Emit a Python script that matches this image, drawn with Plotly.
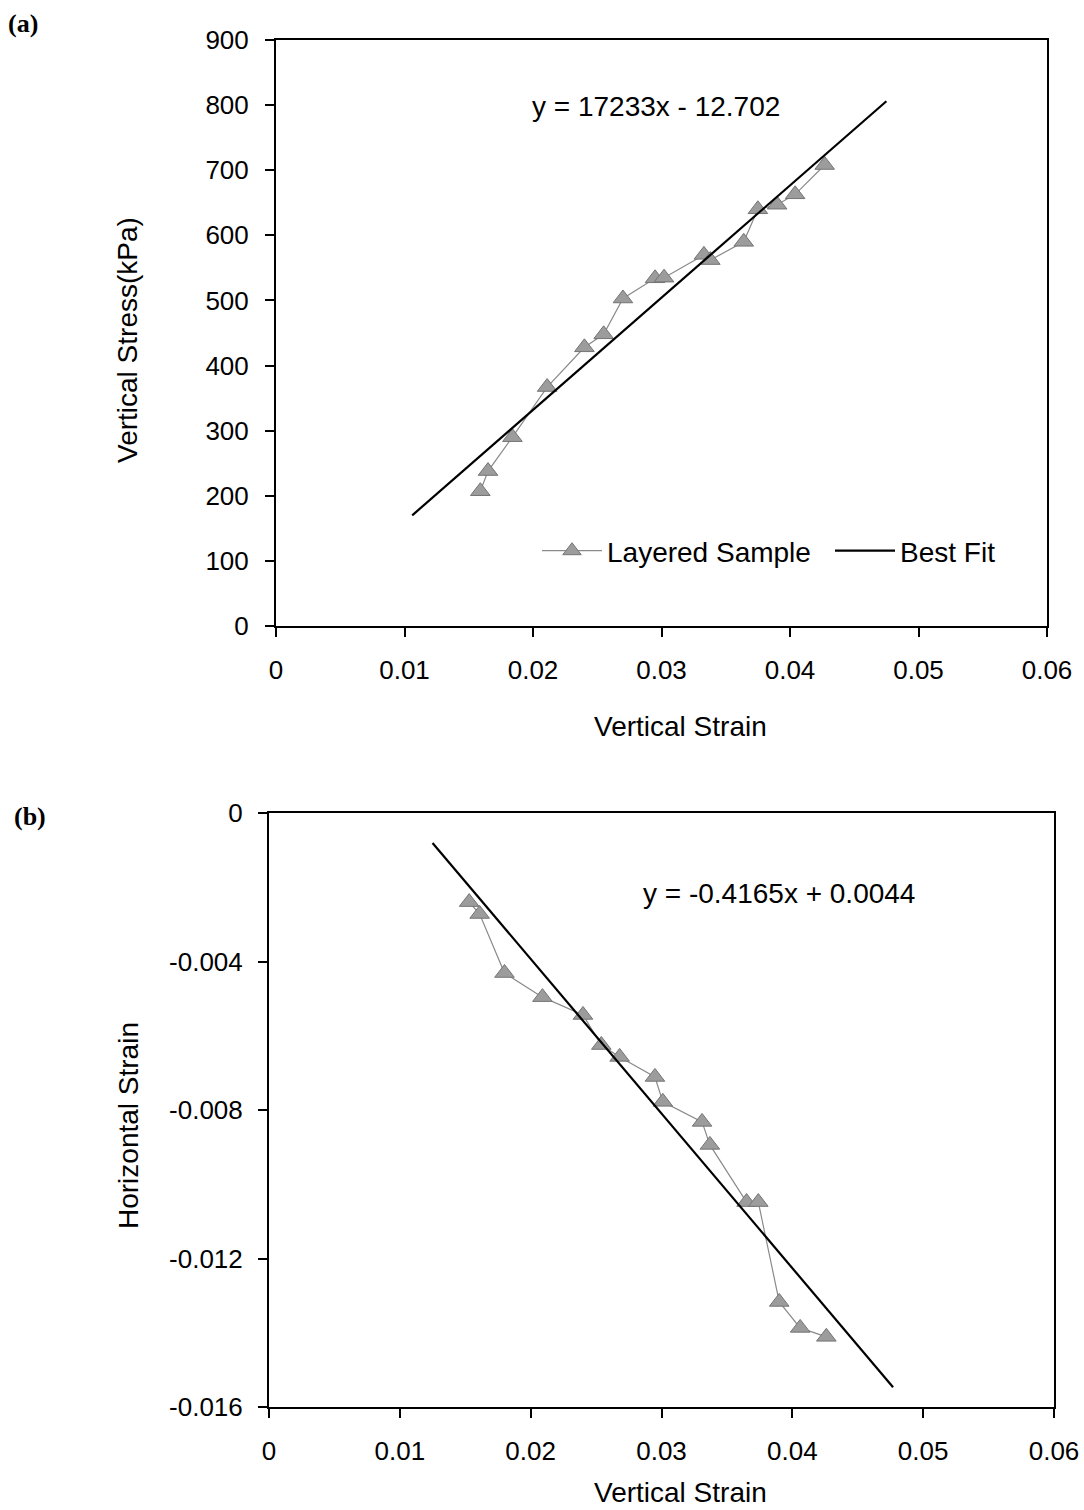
import plotly.graph_objects as go

# ---- data ----
strain_a = [0.0159, 0.0165, 0.0184, 0.0211, 0.0240, 0.0255, 0.0270, 0.0295,
            0.0302, 0.0333, 0.0338, 0.0364, 0.0375, 0.0390, 0.0404, 0.0427]
stress_a = [207, 238, 290, 367, 428, 448, 503, 534,
            535, 570, 562, 590, 640, 647, 663, 708]

strain_b = [0.0153, 0.0161, 0.0180, 0.0209, 0.0240, 0.0254, 0.0268, 0.0295,
            0.0301, 0.0331, 0.0337, 0.0365, 0.0374, 0.0390, 0.0406, 0.0426]
hstrain_b = [-0.0024, -0.00272, -0.00431, -0.00496, -0.00544, -0.00625, -0.00657, -0.00711,
             -0.00778, -0.00832, -0.00894, -0.01048, -0.01048, -0.01317, -0.01387, -0.01411]

fit_a = (17233, -12.702)
fit_a_xrange = [0.0106, 0.0475]
fit_b = (-0.4165, 0.0044)
fit_b_xrange = [0.0125, 0.0477]

x_ticks = [0, 0.01, 0.02, 0.03, 0.04, 0.05, 0.06]
x_ticktext = ["0", "0.01", "0.02", "0.03", "0.04", "0.05", "0.06"]
ya_ticks = [0, 100, 200, 300, 400, 500, 600, 700, 800, 900]
yb_ticks = [0, -0.004, -0.008, -0.012, -0.016]
yb_ticktext = ["0", "-0.004", "-0.008", "-0.012", "-0.016"]

W, H = 1084, 1510
FONT = "Liberation Sans, Arial, sans-serif"
SERIF = "Liberation Serif, Times New Roman, serif"

def px_x(p):
    return p / W

def px_y(p):
    return 1 - p / H

fig = go.Figure()

mk = dict(symbol="triangle-up", size=17, color="#9c9c9c", line=dict(color="#747474", width=1))
ln = dict(color="#8a8a8a", width=1.2)

fig.add_trace(go.Scatter(x=strain_a, y=stress_a, mode="lines+markers", name="Layered Sample",
                         marker=mk, line=ln, xaxis="x", yaxis="y"))
fa = [fit_a[0] * v + fit_a[1] for v in fit_a_xrange]
fig.add_trace(go.Scatter(x=fit_a_xrange, y=fa, mode="lines", name="Best Fit",
                         line=dict(color="black", width=2.2), xaxis="x", yaxis="y"))

fig.add_trace(go.Scatter(x=strain_b, y=hstrain_b, mode="lines+markers", name="Layered Sample",
                         marker=mk, line=ln, xaxis="x2", yaxis="y2", showlegend=False))
fb = [fit_b[0] * v + fit_b[1] for v in fit_b_xrange]
fig.add_trace(go.Scatter(x=fit_b_xrange, y=fb, mode="lines", name="Best Fit",
                         line=dict(color="black", width=2.2), xaxis="x2", yaxis="y2", showlegend=False))

axis_common = dict(showline=True, linecolor="black", linewidth=2, mirror=True,
                   ticks="outside", ticklen=9, tickwidth=2, tickcolor="black",
                   showgrid=False, zeroline=False, automargin=False,
                   ticklabelstandoff=11,
                   tickfont=dict(family=FONT, size=26, color="black"))

fig.update_layout(
    width=W, height=H,
    margin=dict(l=0, r=0, t=0, b=0, autoexpand=False),
    paper_bgcolor="white", plot_bgcolor="white",
    font=dict(family=FONT, size=28, color="black"),
    xaxis=dict(domain=[px_x(276), px_x(1047)], anchor="y", range=[0, 0.06],
               tickvals=x_ticks, ticktext=x_ticktext, **axis_common),
    yaxis=dict(domain=[px_y(626), px_y(40)], anchor="x", range=[0, 900],
               tickvals=ya_ticks, **axis_common),
    xaxis2=dict(domain=[px_x(269), px_x(1054)], anchor="y2", range=[0, 0.06],
                tickvals=x_ticks, ticktext=x_ticktext, **axis_common),
    yaxis2=dict(domain=[px_y(1407), px_y(813)], anchor="x2", range=[-0.016, 0],
                tickvals=yb_ticks, ticktext=yb_ticktext,
                **{**axis_common, "ticklabelstandoff": 10}),
    legend=dict(orientation="h", x=px_x(537), y=px_y(551), xanchor="left", yanchor="middle",
                bgcolor="rgba(0,0,0,0)", font=dict(family=FONT, size=28),
                itemwidth=60, entrywidth=218, entrywidthmode="pixels", tracegroupgap=0),
    showlegend=True,
)

# axis titles
titles = [
    ("Vertical Strain", 680, 727, 0),
    ("Vertical Stress(kPa)", 127, 340, -90),
    ("Vertical Strain", 680, 1492, 0),
    ("Horizontal Strain", 128, 1126, -90),
]
for txt, cx, cy, ang in titles:
    fig.add_annotation(x=px_x(cx), y=px_y(cy), xref="paper", yref="paper",
                       xanchor="center", yanchor="middle", text=txt, textangle=ang,
                       showarrow=False, font=dict(family=FONT, size=28))

# equations
fig.add_annotation(x=px_x(656), y=px_y(107), xref="paper", yref="paper",
                   xanchor="center", yanchor="middle",
                   text="y = 17233x - 12.702", showarrow=False,
                   font=dict(family=FONT, size=28))
fig.add_annotation(x=px_x(779), y=px_y(893), xref="paper", yref="paper",
                   xanchor="center", yanchor="middle",
                   text="y = -0.4165x + 0.0044", showarrow=False,
                   font=dict(family=FONT, size=28))

# panel labels
fig.add_annotation(x=px_x(6), y=px_y(23), xref="paper", yref="paper", xanchor="left",
                   yanchor="middle", text="<b>(a)</b>", showarrow=False,
                   font=dict(family=SERIF, size=26))
fig.add_annotation(x=px_x(12), y=px_y(816), xref="paper", yref="paper", xanchor="left",
                   yanchor="middle", text="<b>(b)</b>", showarrow=False,
                   font=dict(family=SERIF, size=26))

fig.write_html("out.html")
